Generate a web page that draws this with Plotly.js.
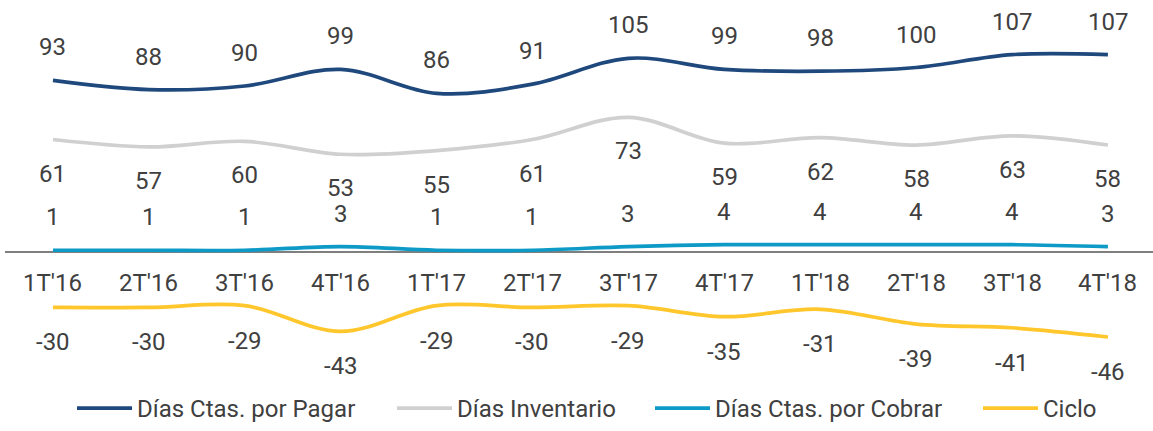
<!DOCTYPE html>
<html>
<head>
<meta charset="utf-8">
<script src="https://cdn.plot.ly/plotly-3.0.1.min.js"></script>
<style>html,body{margin:0;padding:0;background:#fff;}#chart{width:1153px;height:431px;}</style>
</head>
<body>
<div id="chart"></div>
<script>
const categories = ["1T'16","2T'16","3T'16","4T'16","1T'17","2T'17","3T'17","4T'17","1T'18","2T'18","3T'18","4T'18"];
const pagar = [93,88,90,99,86,91,105,99,98,100,107,107];
const inventario = [61,57,60,53,55,61,73,59,62,58,63,58];
const cobrar = [1,1,1,3,1,1,3,4,4,4,4,3];
const ciclo = [-30,-30,-29,-43,-29,-30,-29,-35,-31,-39,-41,-46];

const names = ["Días Ctas. por Pagar","Días Inventario","Días Ctas. por Cobrar","Ciclo"];
const colors = ["#1f497d","#d0d0d0","#0e9ac7","#ffc72c"];
const seriesList = [pagar, inventario, cobrar, ciclo];
const labelShift = [33, -34, 33, -35];
const legendIds = ['legend', 'legend2', 'legend3', 'legend4'];
const legendLineStartPx = [77, 397, 655, 983];

const textColor = "#404040";
const fontFamily = "Roboto, 'Liberation Sans', sans-serif";

const traces = seriesList.map((s, i) => ({
  type: 'scatter', mode: 'lines', x: categories, y: s, name: names[i],
  legend: legendIds[i],
  line: {color: colors[i], width: 3.7, shape: 'spline', smoothing: 1},
  hoverinfo: 'skip'
}));

const annotations = [];
seriesList.forEach((s, i) => {
  s.forEach((v, j) => {
    annotations.push({x: categories[j], y: v, text: String(v), showarrow: false,
      yshift: labelShift[i], font: {family: fontFamily, size: 24, color: textColor}});
  });
});
categories.forEach(c => {
  annotations.push({x: c, y: 0, text: c, showarrow: false, yshift: -31,
    font: {family: fontFamily, size: 24, color: textColor}});
});

const layout = {
  width: 1153, height: 431,
  margin: {l: 5, r: 0, t: 14, b: 41},
  paper_bgcolor: '#fff', plot_bgcolor: '#fff',
  font: {family: fontFamily, size: 24, color: textColor},
  xaxis: {type: 'category', range: [-0.5, 11.47], showticklabels: false, showgrid: false, zeroline: false, showline: false, ticks: ''},
  yaxis: {range: [-73.1, 129.0], showticklabels: false, showgrid: false, zeroline: true, zerolinecolor: '#7f7f7f', zerolinewidth: 1.3, ticks: ''},
  showlegend: true,
  annotations: annotations
};
legendIds.forEach((id, i) => {
  layout[id] = {orientation: 'h', x: (legendLineStartPx[i] - 5 - 5) / 1148, xanchor: 'left',
    y: -0.0585, yanchor: 'middle', itemwidth: 55,
    font: {family: fontFamily, size: 24, color: textColor}, bgcolor: 'rgba(0,0,0,0)'};
});

Plotly.newPlot('chart', traces, layout, {displayModeBar: false, staticPlot: true});
</script>
</body>
</html>
